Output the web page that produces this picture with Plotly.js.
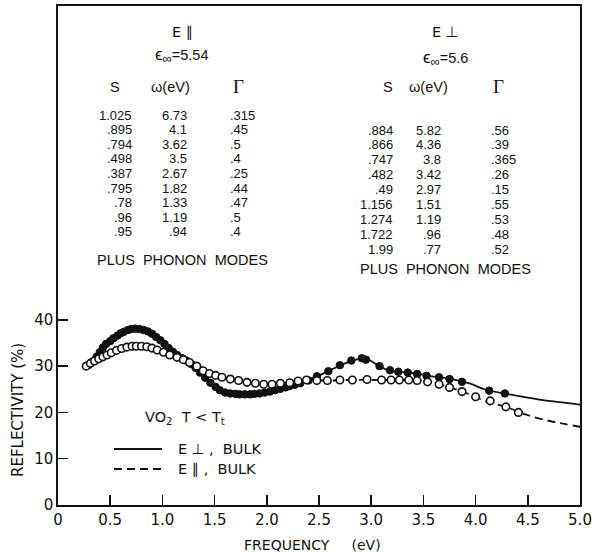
<!DOCTYPE html>
<html>
<head>
<meta charset="utf-8">
<script src="https://cdn.plot.ly/plotly-3.0.1.min.js"></script>
<style>html,body{margin:0;padding:0;background:#fff;}#chart{width:594px;height:552px;}</style>
</head>
<body>
<div id="chart"></div>
<script>
// ---- measured data: E perpendicular (filled circles) ----
const perpX = [0.29,0.33,0.37,0.40,0.43,0.46,0.50,0.53,0.57,0.60,0.63,0.67,0.70,0.74,0.78,0.82,0.86,0.90,0.94,0.98,1.02,1.06,1.10,1.14,1.19,1.23,1.28,1.32,1.36,1.41,1.46,1.51,1.55,1.60,1.65,1.70,1.74,1.79,1.84,1.88,1.93,1.98,2.03,2.08,2.13,2.18,2.22,2.27,2.32,2.40,2.48,2.59,2.70,2.81,2.91,2.95,3.08,3.18,3.26,3.35,3.44,3.53,3.65,3.75,3.87,4.13,4.28];
const perpY = [30.2,31.0,32.0,33.0,34.0,34.8,35.4,36.0,36.6,37.1,37.4,37.8,38.0,38.1,38.0,37.8,37.5,37.0,36.3,35.6,34.8,33.9,33.1,32.4,31.7,31.2,30.4,29.6,28.6,27.5,26.4,25.5,24.8,24.3,24.1,24.0,23.9,23.9,23.9,24.0,24.1,24.3,24.5,24.8,25.1,25.4,25.7,26.0,26.3,26.9,27.8,28.9,30.2,31.2,31.7,31.4,30.0,29.1,28.8,28.6,28.3,27.9,27.6,27.2,26.6,24.7,24.1];
// ---- measured data: E parallel (open circles) ----
const parX = [0.27,0.31,0.35,0.39,0.43,0.47,0.51,0.56,0.61,0.66,0.71,0.75,0.80,0.85,0.90,0.95,1.01,1.07,1.14,1.20,1.26,1.33,1.39,1.45,1.51,1.57,1.65,1.73,1.81,1.89,1.97,2.05,2.13,2.22,2.30,2.38,2.48,2.58,2.70,2.82,2.96,3.10,3.19,3.27,3.36,3.44,3.54,3.65,3.75,3.87,4.00,4.14,4.29,4.41];
const parY = [30.0,30.6,31.1,31.6,32.0,32.4,32.9,33.4,33.8,34.1,34.3,34.3,34.3,34.2,33.9,33.5,33.0,32.4,31.9,31.4,30.8,30.0,29.0,28.4,28.0,27.6,27.2,26.9,26.5,26.3,26.1,26.1,26.3,26.4,26.8,27.0,26.9,26.9,27.0,27.0,27.1,27.0,27.0,27.0,27.0,26.9,26.6,26.1,25.4,24.5,23.4,22.5,21.2,20.0];
// ---- bulk fits ----
const fitX = [0.25,0.35,0.45,0.55,0.65,0.75,0.85,0.95,1.05,1.15,1.25,1.35,1.45,1.55,1.65,1.75,1.85,1.95,2.05,2.15,2.25,2.35,2.45,2.55,2.65,2.75,2.85,2.95,3.05,3.15,3.25,3.35,3.45,3.55,3.65,3.75,3.85,3.95,4.10,4.30,4.50,4.70,4.85,5.00];
const fitPerpY = [29.9,31.7,34.4,36.3,37.6,38.1,37.6,36.1,34.1,32.3,31.0,29.0,26.6,24.8,24.1,23.9,23.9,24.2,24.6,25.2,25.8,26.6,27.5,28.5,29.6,30.6,31.4,31.6,30.4,29.2,28.8,28.6,28.3,27.9,27.6,27.3,26.8,26.2,24.9,24.0,23.2,22.5,22.1,21.7];
const fitParY = [30.0,31.0,32.2,33.2,34.0,34.3,34.2,33.5,32.7,31.9,31.0,29.6,28.4,27.7,27.2,26.8,26.4,26.1,26.1,26.3,26.5,26.9,27.0,26.9,26.9,27.0,27.0,27.1,27.0,27.0,27.0,27.0,26.9,26.6,26.1,25.4,24.7,23.8,22.4,21.1,19.4,18.2,17.5,16.9];
// ---- ticks ----
const xTickVals = [0,0.5,1,1.5,2,2.5,3,3.5,4,4.5,5];
const xTickText = ['0','0.5','1.0','1.5','2.0','2.5','3.0','3.5','4.0','4.5','5.0'];
const yTickVals = [0,10,20,30,40];
// ---- oscillator parameter tables ----
const parS = ['1.025','.895','.794','.498','.387','.795','.78','.96','.95'];
const parW = ['6.73','4.1','3.62','3.5','2.67','1.82','1.33','1.19','.94'];
const parG = ['.315','.45','.5','.4','.25','.44','.47','.5','.4'];
const perS = ['.884','.866','.747','.482','.49','1.156','1.274','1.722','1.99'];
const perW = ['5.82','4.36','3.8','3.42','2.97','1.51','1.19','.96','.77'];
const perG = ['.56','.39','.365','.26','.15','.55','.53','.48','.52'];

const W = 594, H = 552, L = 58, R = 14, T = 6, B = 47;
const pw = W - L - R, ph = H - T - B;
const px = v => (v - L) / pw;
const py = v => (H - B - v) / ph;

const tf = {family: 'Liberation Sans, Arial, sans-serif', size: 13, color: '#111'};
const hf = {family: 'Liberation Sans, Arial, sans-serif', size: 14.5, color: '#111'};
const gf = {family: 'Liberation Serif, serif', size: 19, color: '#111'};
const df = {family: 'DejaVu Sans, sans-serif', size: 14.5, color: '#111'};

const ann = [];
function A(text, x, y, xa, font, extra) {
  ann.push(Object.assign({text: text, x: px(x), y: py(y), xref: 'paper', yref: 'paper',
    xanchor: xa, yanchor: 'middle', showarrow: false, font: font}, extra || {}));
}
function table(title, eps, S, Wv, G, o) {
  A(title, o.cx, 32, 'center', df);
  A('<span style="font-size:17px">ϵ</span><sub><span style="font-size:13px">∞</span></sub>=' + eps, o.cx, o.epsY, 'center', hf);
  A('S', o.sH, 87, 'center', hf);
  A('ω(eV)', o.wH, 87, 'center', hf);
  A('Γ', o.gH, 86, 'center', gf);
  for (let i = 0; i < S.length; i++) {
    const y = o.r0 + i * o.dr;
    A(S[i], o.sR, y, 'right', tf);
    A(Wv[i], o.wR, y, 'right', tf);
    A(G[i], o.gL, y, 'left', tf);
  }
  A('PLUS  PHONON  MODES', o.cx, o.plusY, 'center', hf);
}
table('E ∥', '5.54', parS, parW, parG, {cx: 182, epsY: 56, sH: 115, wH: 170, gH: 238, sR: 134, wR: 189, gL: 228, r0: 115, dr: 14.6, plusY: 260});
table('E ⊥', '5.6', perS, perW, perG, {cx: 445, epsY: 58, sH: 388, wH: 428, gH: 498, sR: 395, wR: 443, gL: 489, r0: 130, dr: 14.9, plusY: 269});

A('VO<sub>2</sub>  T &lt; T<sub>t</sub>', 143, 418, 'left', df);
A('E ⊥ ,  BULK', 176, 449, 'left', df);
A('E ∥ ,  BULK', 176, 469, 'left', df);
A('FREQUENCY\u00a0\u00a0\u00a0\u00a0\u00a0(eV)', 312, 545, 'center', {family: 'DejaVu Sans, sans-serif', size: 14, color: '#111'});
A('REFLECTIVITY (%)', 18, 410, 'center', {family: 'DejaVu Sans, sans-serif', size: 15, color: '#111'}, {textangle: -90});

const xd = v => (v - L) / pw * 5;
const yd = v => (H - B - v) / ph * 107.8;
const shapes = [
  {type: 'line', xref: 'x', yref: 'y', x0: xd(114), x1: xd(162), y0: yd(449), y1: yd(449), line: {color: '#111', width: 1.8}},
  {type: 'line', xref: 'x', yref: 'y', x0: xd(114), x1: xd(162), y0: yd(469), y1: yd(469), line: {color: '#111', width: 1.8, dash: '8px,5px'}}
];

const traces = [
  {x: fitX, y: fitPerpY, mode: 'lines', line: {color: '#111', width: 1.8, shape: 'spline'}, hoverinfo: 'skip'},
  {x: fitX, y: fitParY, mode: 'lines', line: {color: '#111', width: 1.8, dash: '8px,5px', shape: 'spline'}, hoverinfo: 'skip'},
  {x: perpX, y: perpY, mode: 'markers', marker: {symbol: 'circle', size: 7.5, color: '#111', line: {color: '#111', width: 1}}},
  {x: parX, y: parY, mode: 'markers', marker: {symbol: 'circle', size: 7.5, color: '#fff', line: {color: '#111', width: 1.6}}}
];

const axisCommon = {showline: true, mirror: true, linecolor: '#111', linewidth: 1.6,
  ticks: 'inside', ticklen: 10, tickwidth: 1.5, tickcolor: '#111', showgrid: false, zeroline: false,
  tickfont: {family: 'DejaVu Sans, sans-serif', size: 15, color: '#111'}};

const layout = {
  width: W, height: H, margin: {l: L, r: R, t: T, b: B},
  paper_bgcolor: '#fff', plot_bgcolor: '#fff', showlegend: false,
  xaxis: Object.assign({}, axisCommon, {range: [0, 5], tickmode: 'array', tickvals: xTickVals, ticktext: xTickText}),
  yaxis: Object.assign({}, axisCommon, {range: [0, 107.8], tickmode: 'array', tickvals: yTickVals, ticktext: yTickVals.map(String)}),
  annotations: ann, shapes: shapes
};
Plotly.newPlot('chart', traces, layout, {staticPlot: true});
</script>
</body>
</html>
